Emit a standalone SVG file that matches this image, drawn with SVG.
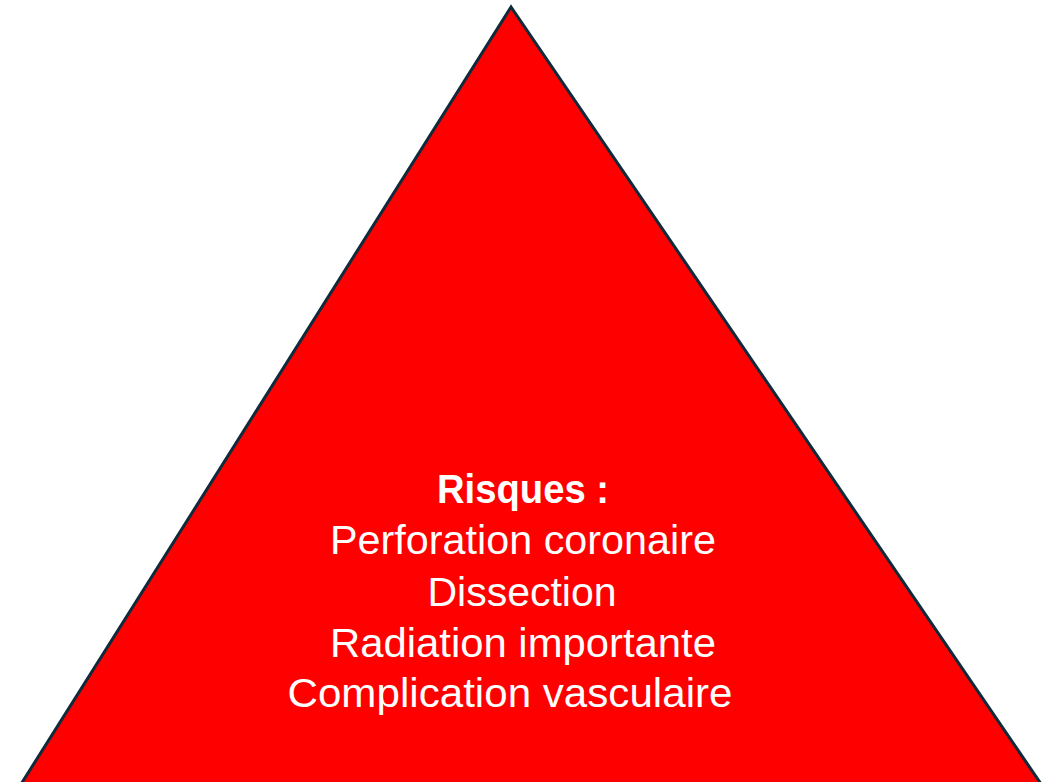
<svg xmlns="http://www.w3.org/2000/svg" width="1064" height="782" viewBox="0 0 1064 782">
<style>
.t{font-family:"Liberation Sans",Arial,sans-serif;font-size:41px;fill:#ffffff;text-anchor:middle}
.b{font-weight:bold}
</style>
<rect width="1064" height="782" fill="#ffffff"/>
<g id="triangle">
<polygon points="511,7 11,800 1052,800" fill="#ff0000" stroke="#0f2a3b" stroke-width="3" stroke-linejoin="miter"/>
</g>
<g id="label">
<text class="t b" x="523" y="503" textLength="172" lengthAdjust="spacingAndGlyphs">Risques :</text>
<text class="t" x="523" y="554" textLength="386" lengthAdjust="spacingAndGlyphs">Perforation coronaire</text>
<text class="t" x="522" y="606">Dissection</text>
<text class="t" x="523" y="657" textLength="386" lengthAdjust="spacingAndGlyphs">Radiation importante</text>
<text class="t" x="510" y="707" textLength="445" lengthAdjust="spacingAndGlyphs">Complication vasculaire</text>
</g>
</svg>
